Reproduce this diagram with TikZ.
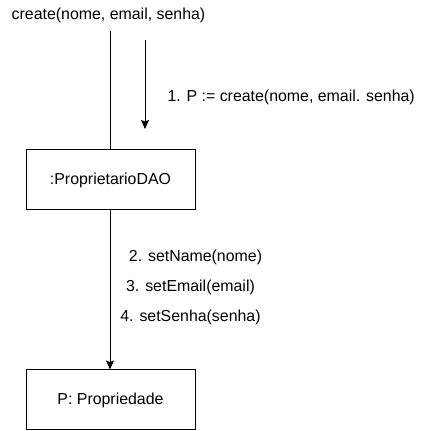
\documentclass[tikz,border=0pt]{standalone}
\usepackage{fontspec}
\setmainfont{Liberation Sans}
\usetikzlibrary{arrows.meta}

\begin{document}
\begin{tikzpicture}[x=1pt, y=1pt, line width=1pt,
		objbox/.style = {draw, minimum width=169pt, minimum height=60pt, inner sep=0pt},
		msglabel/.style = {inner sep=0pt, font=\fontsize{15.9}{19}\selectfont},
		msgarrow/.style = {-{Stealth[length=9pt, width=8pt, inset=1.5pt]}}]
		\useasboundingbox (0,0) rectangle (425,431);
		
		\node[msglabel] (call) at (108.5,416) {create(nome, email, senha)};
		\coordinate (calltop) at (110,400);
		
		\node[objbox, msglabel] (dao) at (110.5,251) {:ProprietarioDAO};
		\node[objbox, msglabel] (prop) at (110.5,31) {P: Propriedade};
		
		\draw (calltop) -- (calltop |- dao.north);
		\draw[msgarrow] (dao.south -| calltop) -- (prop.north -| calltop);
		
		\coordinate (a1s) at (145,391);
		\coordinate (a1e) at (145,302);
		\draw[msgarrow] (a1s) -- (a1e);
		\node[msglabel, anchor=west] (m1) at (167,334) {1. P := create(nome, email. senha)};
		
		\node[msglabel] (m2) at (195.5,174) {2. setName(nome)};
		\node[msglabel] (m3) at (190.5,144) {3. setEmail(email)};
		\node[msglabel] (m4) at (190.5,114) {4. setSenha(senha)};
		\end{tikzpicture}
\end{document}
